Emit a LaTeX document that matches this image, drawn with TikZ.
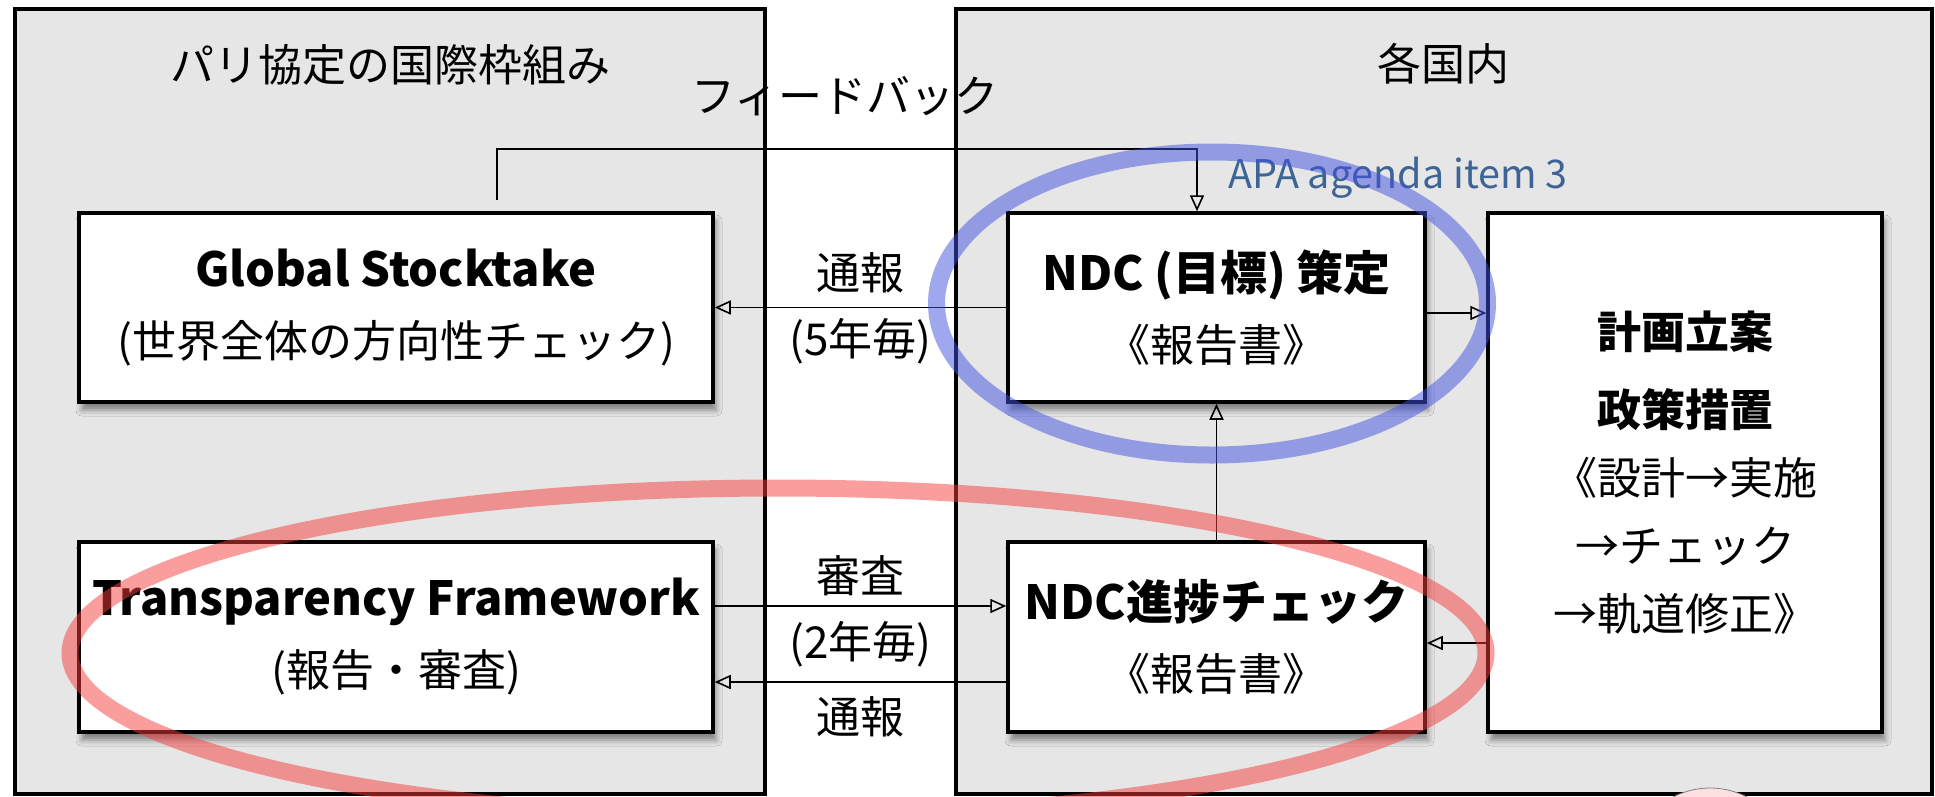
\documentclass[tikz,border=0pt]{standalone}
\usepackage{fontspec}
\setmainfont{Noto Sans CJK JP}
\usetikzlibrary{arrows.meta,shadows.blur}
\definecolor{panelgray}{RGB}{230,230,230}
\definecolor{apablue}{RGB}{60,100,150}
\definecolor{ringblue}{RGB}{64,80,224}
\definecolor{ringred}{RGB}{245,60,60}
\definecolor{markpink}{RGB}{253,225,225}
\newcommand{\headline}[1]{{\fontsize{47}{71}\selectfont\bfseries #1}}

\begin{document}
\begin{tikzpicture}[x=1pt,y=-1pt,
        >={Triangle[open,length=16pt,width=14pt]},
        panel/.style={draw,line width=4pt,fill=panelgray},
        box/.style={draw,line width=3.5pt,fill=white,inner sep=0pt,align=center,
            font=\fontsize{44}{71}\selectfont,
            blur shadow={shadow xshift=3pt,shadow yshift=-8pt,
                shadow blur radius=6pt,shadow opacity=45}},
        lbl/.style={font=\fontsize{44}{50}\selectfont},
        flow/.style={->,line width=1.6pt},
        ring/.style={line width=17pt,draw opacity=.5}]

  \useasboundingbox (0,0) rectangle (1935,796);

  % two frames
  \draw[panel] (15,9) rectangle (765,794);
  \draw[panel] (956,9) rectangle (1932,794);

  \node[lbl] (intl) at (390,65) {パリ協定の国際枠組み};
  \node[lbl] (dom) at (1443,64) {各国内};
  \node[lbl] (fb) at (845,96) {フィードバック};
  \node[font=\fontsize{39.5}{42}\selectfont,text=apablue,anchor=west,inner sep=0pt]
        (apa) at (1228,178) {APA agenda item 3};

  % boxes
  \node[box,minimum width=634pt,minimum height=189pt] (gst) at (396,307.5)
        {\headline{Global Stocktake}\\(世界全体の方向性チェック)};
  \node[box,minimum width=634pt,minimum height=190pt] (tf) at (396,637)
        {\headline{Transparency Framework}\\(報告・審査)};
  \node[box,minimum width=417pt,minimum height=189pt] (ndc) at (1216.5,307.5)
        {\headline{NDC (目標) 策定}\\《報告書》};
  \node[box,minimum width=417pt,minimum height=190pt] (chk) at (1216.5,637)
        {\headline{NDC進捗チェック}\\《報告書》};
  \node[box,minimum width=394pt,minimum height=519pt,
        font=\fontsize{44}{68}\selectfont] (plan) at (1685,472.5)
        {\textbf{計画立案}\\[10pt]\textbf{政策措置}\\《設計→実施\\→チェック\\→軌道修正》};

  % connectors
  \coordinate (fbstart) at (497,200);
  \coordinate (fbturn) at (497,149);
  \draw[flow] (fbstart) -- (fbturn) -| ([xshift=-19.5pt]ndc.north);

  \draw[flow] (ndc.west) -- node[lbl,yshift=35pt] {通報}
        node[lbl,yshift=-34pt] {(5年毎)} (gst.east);
  \draw[flow] ([yshift=-5.5pt]ndc.east) -- ([yshift=-5.5pt]ndc.east -| plan.west);
  \draw[flow] ([yshift=31pt]tf.east) -- node[lbl,yshift=30pt] {審査}
        node[lbl,yshift=-38pt] {(2年毎)} ([yshift=31pt]tf.east -| chk.west);
  \draw[flow] ([yshift=-45pt]chk.west) -- node[lbl,yshift=-35pt] {通報}
        ([yshift=-45pt]chk.west -| tf.east);
  \draw[flow] ([yshift=-6pt]chk.east -| plan.west) -- ([yshift=-6pt]chk.east);
  \draw[flow] (chk.north) -- (ndc.south);

  % highlight rings
  \draw[ring,ringblue] (1212,303.5) ellipse [x radius=275.5,y radius=151.5];
  \draw[ring,ringred] (778,653) ellipse [x radius=708,y radius=165];
  \draw[gray,line width=.8pt,fill=markpink] (1710,868) circle [radius=80];

\end{tikzpicture}
\end{document}
